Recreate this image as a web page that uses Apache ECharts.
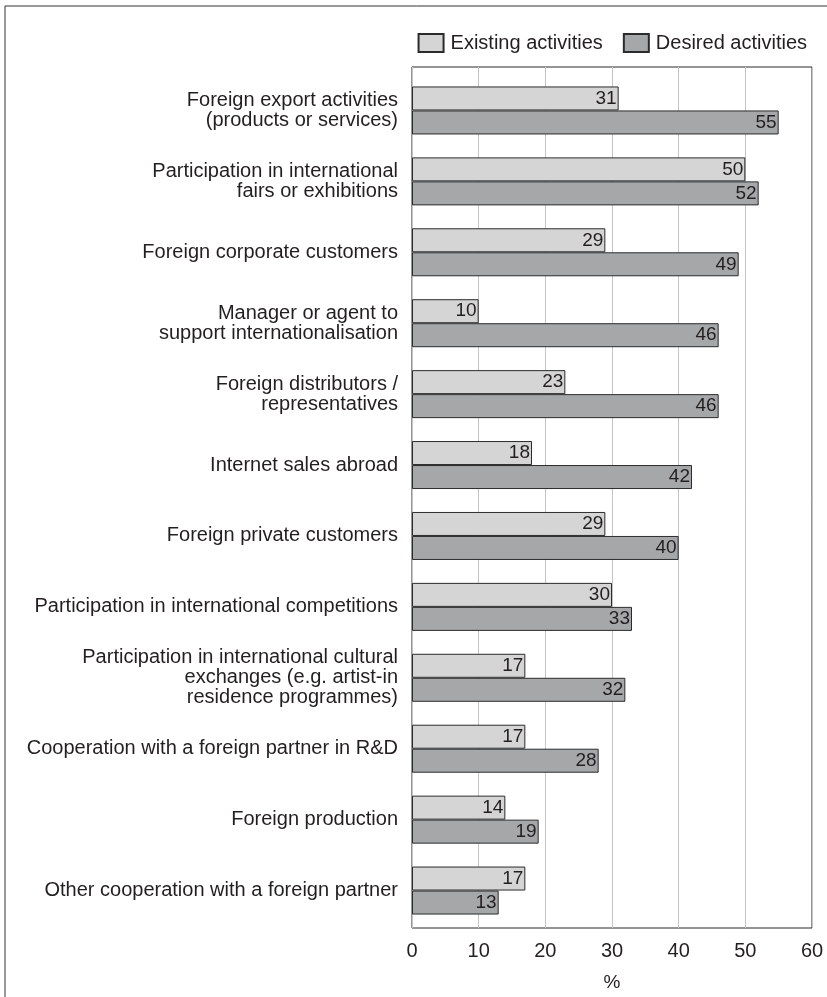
<!DOCTYPE html>
<html>
<head>
<meta charset="utf-8">
<script src="https://cdn.jsdelivr.net/npm/echarts@6/dist/echarts.min.js"></script>
<style>
  html, body { margin: 0; padding: 0; background: #fff; }
  #chart { width: 827px; height: 997px; }
</style>
</head>
<body>
<div id="chart"></div>
<script>
// Internationalisation activities: existing vs desired (share of respondents, %)
const categories = [
  'Foreign export activities\n(products or services)',
  'Participation in international\nfairs or exhibitions',
  'Foreign corporate customers',
  'Manager or agent to\nsupport internationalisation',
  'Foreign distributors /\nrepresentatives',
  'Internet sales abroad',
  'Foreign private customers',
  'Participation in international competitions',
  'Participation in international cultural\nexchanges (e.g. artist-in\nresidence programmes)',
  'Cooperation with a foreign partner in R&D',
  'Foreign production',
  'Other cooperation with a foreign partner'
];
const existingValues = [31, 50, 29, 10, 23, 18, 29, 30, 17, 17, 14, 17];
const desiredValues  = [55, 52, 49, 46, 46, 42, 40, 33, 32, 28, 19, 13];
const seriesNames = ['Existing activities', 'Desired activities'];
const xTicks = { min: 0, max: 60, interval: 10 };

const FONT = "'Liberation Sans', Arial, sans-serif";
const TEXT = '#231f20';

const chart = echarts.init(document.getElementById('chart'), null, { renderer: 'canvas' });

const barLabel = {
  show: true,
  position: 'insideRight',
  distance: 2,
  fontFamily: FONT,
  fontSize: 19,
  color: TEXT
};

chart.setOption({
  animation: false,
  backgroundColor: '#fff',
  textStyle: { fontFamily: FONT },
  graphic: [{
    type: 'rect',
    shape: { x: 5, y: 6, width: 900, height: 1100 },
    style: { fill: 'none', stroke: '#333', lineWidth: 1 },
    silent: true,
    z: -10
  }],
  legend: {
    data: seriesNames,
    icon: 'rect',
    right: 15,
    top: 28,
    itemWidth: 25,
    itemHeight: 18,
    itemGap: 20,
    textStyle: { fontFamily: FONT, fontSize: 20, color: TEXT, padding: [0, 0, 0, 2] }
  },
  grid: [
    // frame, gridlines and value axis
    { left: 412, right: 15, top: 67, bottom: 68, show: true, borderColor: '#2b2b2b', borderWidth: 1, backgroundColor: 'transparent' },
    // bars
    { left: 412, right: 15, top: 75, bottom: 71 }
  ],
  xAxis: [
    {
      gridIndex: 0,
      type: 'value',
      min: xTicks.min, max: xTicks.max, interval: xTicks.interval,
      name: '%',
      nameLocation: 'middle',
      nameGap: 45,
      nameTextStyle: { fontFamily: FONT, fontSize: 19, color: TEXT },
      axisLine: { show: false },
      axisTick: { show: false },
      axisLabel: { margin: 13, fontFamily: FONT, fontSize: 20, color: TEXT },
      splitLine: { show: true, lineStyle: { color: '#c4c4c4', width: 1 } }
    },
    {
      gridIndex: 1,
      type: 'value',
      min: xTicks.min, max: xTicks.max, interval: xTicks.interval,
      show: false
    }
  ],
  yAxis: [
    { gridIndex: 0, type: 'value', show: false, min: 0, max: 1 },
    {
      gridIndex: 1,
      type: 'category',
      data: categories,
      inverse: true,
      axisLine: { show: false },
      axisTick: { show: false },
      splitLine: { show: false },
      axisLabel: {
        margin: 14,
        fontFamily: FONT,
        fontSize: 20,
        lineHeight: 20,
        color: TEXT,
        align: 'right'
      }
    }
  ],
  series: [
    {
      name: seriesNames[0],
      type: 'bar',
      xAxisIndex: 1,
      yAxisIndex: 1,
      data: existingValues,
      barWidth: 24,
      barGap: '0%',
      itemStyle: { color: '#d5d5d6', borderColor: '#2b2b2b', borderWidth: 1 },
      label: barLabel
    },
    {
      name: seriesNames[1],
      type: 'bar',
      xAxisIndex: 1,
      yAxisIndex: 1,
      data: desiredValues,
      barWidth: 24,
      barGap: '0%',
      itemStyle: { color: '#a6a7a9', borderColor: '#2b2b2b', borderWidth: 1 },
      label: barLabel
    }
  ]
});
</script>
</body>
</html>
